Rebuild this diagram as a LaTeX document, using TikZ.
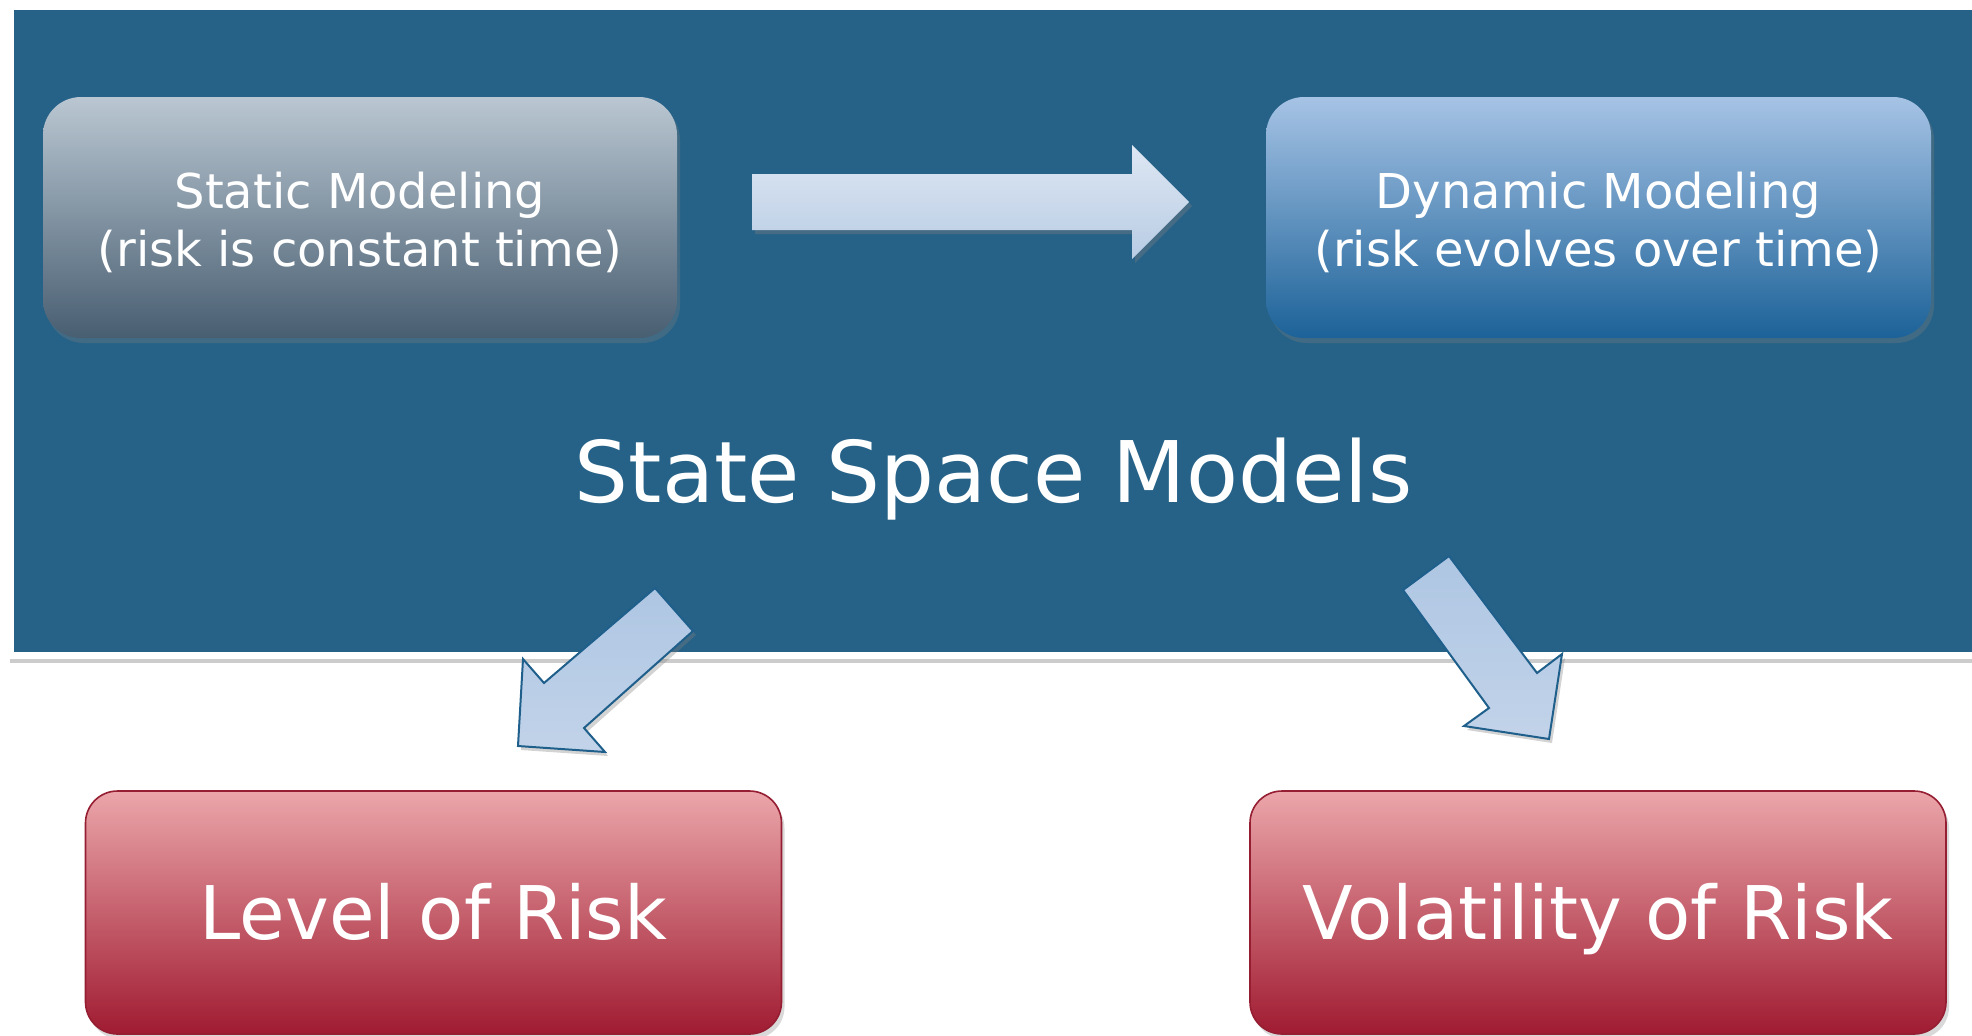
\documentclass[tikz,border=0pt]{standalone}
\usepackage{fontspec}
\setmainfont{DejaVu Sans}
\usetikzlibrary{shadows}
\definecolor{panelblue}{RGB}{38,98,135}
\definecolor{statictop}{RGB}{186,199,210}
\definecolor{staticmid}{RGB}{150,166,180}
\definecolor{staticbot}{RGB}{72,94,113}
\definecolor{dyntop}{RGB}{166,195,229}
\definecolor{dynmid}{RGB}{122,157,196}
\definecolor{dynbot}{RGB}{28,98,152}
\definecolor{risktop}{RGB}{235,166,170}
\definecolor{riskmid}{RGB}{213,135,142}
\definecolor{riskbot}{RGB}{160,27,49}
\definecolor{riskline}{RGB}{150,30,50}
\definecolor{arrtop}{RGB}{222,231,243}
\definecolor{arrbot}{RGB}{184,204,228}
\definecolor{diagtop}{RGB}{174,198,227}
\definecolor{diagbot}{RGB}{194,211,233}
\definecolor{arrline}{RGB}{31,95,139}

\begin{document}
\begin{tikzpicture}[x=0.5pt, y=-0.5pt,
  box/.style={rounded corners=19pt, minimum width=#1, minimum height=120.5pt, align=center,
    text=white, font=\fontsize{24pt}{29pt}\selectfont, inner sep=0pt,
    drop shadow={opacity=0.3, shadow xshift=1.5pt, shadow yshift=-2.5pt}},
  riskbox/.style={rounded corners=16pt, minimum width=348pt, minimum height=121.5pt,
    draw=riskline, line width=0.8pt, top color=risktop, middle color=riskmid, bottom color=riskbot,
    text=white, font=\fontsize{37pt}{44pt}\selectfont, text height=27pt, text depth=0pt,
    drop shadow={opacity=0.3, shadow xshift=1.5pt, shadow yshift=-2.5pt}},
  barrow/.style={top color=arrtop, bottom color=arrbot,
    drop shadow={opacity=0.35, shadow xshift=1.5pt, shadow yshift=-2pt}},
  diag/.style={barrow, draw=arrline, line width=1pt, top color=diagtop, bottom color=diagbot}]
\useasboundingbox (0,0) rectangle (1972,1035);
% background panel
\draw[draw=white, line width=3.5pt, fill=panelblue,
  drop shadow={opacity=0.4, shadow xshift=0pt, shadow yshift=-4pt}] (10,6.5) rectangle (1990,655);
\node[box=317pt, top color=statictop, middle color=staticmid, bottom color=staticbot] (static) at (360,217.5)
  {\rule{0pt}{23pt}Static Modeling\\(risk is constant time)};
\node[box=332.5pt, top color=dyntop, middle color=dynmid, bottom color=dynbot] (dynamic) at (1598.5,217.5)
  {\rule{0pt}{23pt}Dynamic Modeling\\(risk evolves over time)};
\node[text=white, font=\fontsize{42.5pt}{50pt}\selectfont, anchor=base] (ssm) at (993.5,502) {State Space Models};
\node[riskbox] (level) at (433.5,912.5) {Level of Risk};
\node[riskbox] (vol) at (1598,912.5) {Volatility of Risk};
% block arrows
\path[barrow] (752,174) -- (1132,174) -- (1132,145) -- (1189,202) -- (1132,259) -- (1132,230) -- (752,230) -- cycle;
\draw[diag] (655,588) -- (693,631) -- (584,728) -- (605,752) -- (518,746) -- (523,659) -- (544,683) -- cycle;
\draw[diag] (1403,590) -- (1449,556) -- (1537,673) -- (1562,654) -- (1549,739) -- (1464,726) -- (1489,708) -- cycle;
\end{tikzpicture}
\end{document}
